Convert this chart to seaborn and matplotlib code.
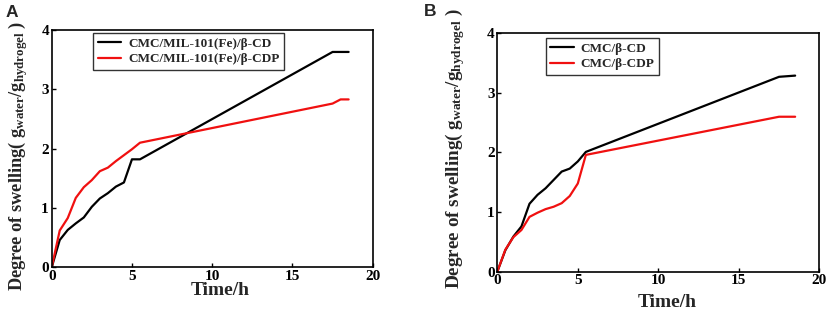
import matplotlib
matplotlib.use('Agg')
import matplotlib.pyplot as plt
import numpy as np
import pandas as pd
import seaborn as sns

sns.set_theme(style='ticks')
plt.rcParams['font.family'] = ['Liberation Serif', 'DejaVu Serif']
plt.rcParams['font.weight'] = 'bold'
plt.rcParams['mathtext.fontset'] = 'custom'
plt.rcParams['mathtext.rm'] = 'Liberation Serif:bold'
plt.rcParams['mathtext.bf'] = 'Liberation Serif:bold'
plt.rcParams['mathtext.it'] = 'Liberation Serif:bold'

# panel A data
time_a_cd = [0, 0.5, 1, 1.5, 2, 2.5, 3, 3.5, 4, 4.5, 5, 5.5, 17.5, 18.5]
swell_a_cd = [0, 0.46, 0.63, 0.74, 0.84, 1.02, 1.16, 1.25, 1.36, 1.43, 1.82, 1.82, 3.63, 3.63]
time_a_cdp = [0, 0.5, 1, 1.5, 2, 2.5, 3, 3.5, 4, 4.5, 5, 5.5, 17.5, 18, 18.5]
swell_a_cdp = [0, 0.62, 0.83, 1.17, 1.35, 1.47, 1.62, 1.68, 1.79, 1.89, 1.99, 2.10, 2.76, 2.83, 2.83]
labels_a = ['CMC/MIL-101(Fe)/β-CD', 'CMC/MIL-101(Fe)/β-CDP']

# panel B data
time_b_cd = [0, 0.5, 1, 1.5, 2, 2.5, 3, 3.5, 4, 4.5, 5, 5.5, 17.5, 18, 18.5]
swell_b_cd = [0, 0.36, 0.59, 0.76, 1.14, 1.29, 1.40, 1.54, 1.68, 1.73, 1.85, 2.01, 3.27, 3.28, 3.29]
time_b_cdp = [0, 0.5, 1, 1.5, 2, 2.5, 3, 3.5, 4, 4.5, 5, 5.5, 17.5, 18.5]
swell_b_cdp = [0, 0.37, 0.58, 0.70, 0.92, 0.99, 1.05, 1.09, 1.15, 1.27, 1.48, 1.96, 2.60, 2.60]
labels_b = ['CMC/β-CD', 'CMC/β-CDP']

ylabel = r'Degree of swelling( $\mathbf{g_{water}/g_{hydrogel}}$ )'

fig = plt.figure(figsize=(8.29, 3.14), dpi=100)
ax_a = fig.add_axes([51.7/829, 1 - 267.3/314, 321/829, 237.3/314])
ax_b = fig.add_axes([497.3/829, 1 - 271.7/314, 322/829, 238.4/314])


def draw(ax, t1, y1, t2, y2, labels, legend_box, ylab_size, ylab_xy, xlab_xy):
    df1 = pd.DataFrame({'t': t1, 'y': y1, 's': labels[0]})
    df2 = pd.DataFrame({'t': t2, 'y': y2, 's': labels[1]})
    df = pd.concat([df1, df2])
    sns.lineplot(data=df, x='t', y='y', hue='s', palette=['black', '#f01010'],
                 linewidth=1.6, ax=ax, sort=False, estimator=None)
    ax.set_xlim(0, 20)
    ax.set_ylim(0, 4)
    ax.set_xticks([0, 5, 10, 15, 20])
    ax.set_yticks([0, 1, 2, 3, 4])
    ax.tick_params(direction='in', length=3, width=1, labelsize=11, pad=2, colors='black')
    for s in ax.spines.values():
        s.set_linewidth(1.2)
        s.set_color('black')
    ax.set_xlabel('Time/h', fontsize=14, fontweight='bold')
    ax.set_ylabel(ylabel, fontsize=ylab_size, fontweight='bold')
    ax.yaxis.set_label_coords(*ylab_xy)
    ax.xaxis.set_label_coords(*xlab_xy)
    leg = ax.legend(loc='upper left', bbox_to_anchor=legend_box, fontsize=9.5,
                    frameon=True, fancybox=False, edgecolor='black',
                    handlelength=1.8, handletextpad=0.5, borderpad=0.35,
                    labelspacing=0.25, borderaxespad=0)
    leg.set_title(None)
    leg.get_frame().set_linewidth(1)
    for txt in leg.get_texts():
        txt.set_fontweight('bold')


draw(ax_a, time_a_cd, swell_a_cd, time_a_cdp, swell_a_cdp, labels_a,
     (0.129, 0.987), 13.2, (-0.068, 0.47), (0.526, -0.06))
draw(ax_b, time_b_cd, swell_b_cd, time_b_cdp, swell_b_cdp, labels_b,
     (0.150, 0.980), 13.8, (-0.094, 0.515), (0.529, -0.095))

fig.text(6/829, 1 - 17/314, 'A', fontsize=12.5, fontweight='bold', family='Liberation Sans')
fig.text(424/829, 1 - 16/314, 'B', fontsize=12.5, fontweight='bold', family='Liberation Sans')

fig.savefig('out.png', dpi=100)
